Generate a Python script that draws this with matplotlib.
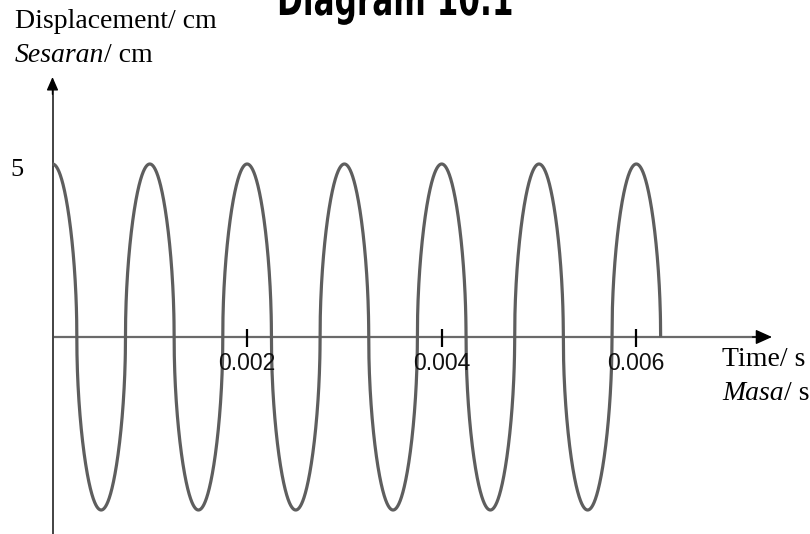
import numpy as np
import matplotlib.pyplot as plt
import matplotlib.patheffects as pe
from matplotlib.transforms import Affine2D

# wave parameters
AMPLITUDE = 5.0          # cm
PERIOD = 0.001           # s
T_END = 0.00625          # curve stops at this zero crossing
SHAPE = 0.5              # <1 gives the fat, steep-sided loops of the sketch
TICK_TIMES = [0.002, 0.004, 0.006]
TICK_LABELS = ['0.002', '0.004', '0.006']
Y_LABEL_VALUE = 5

SERIF = 'Liberation Serif'
SANS = 'Liberation Sans'


class Condense(pe.AbstractPathEffect):
    """Squeeze text horizontally about its anchor (no condensed font here)."""

    def __init__(self, sx):
        super().__init__()
        self.sx = sx

    def draw_path(self, renderer, gc, tpath, affine, rgbFace=None):
        renderer.draw_path(gc, tpath, Affine2D().scale(self.sx, 1) + affine,
                           rgbFace)


fig = plt.figure(figsize=(8.1, 5.34), dpi=100)
ax = fig.add_axes([0, 0, 1, 1])
ax.set_xlim(-52.5 / 97300, (810 - 52.5) / 97300)
ax.set_ylim(-(534 - 337) / 34.6, 337 / 34.6)
ax.axis('off')

# displacement curve
t = np.linspace(0, T_END, 4000)
c = np.cos(2 * np.pi * t / PERIOD)
y = AMPLITUDE * np.sign(c) * np.abs(c) ** SHAPE
ax.plot(t, y, color='#5e5e5e', lw=2.3, solid_capstyle='butt', zorder=3)

# axes with arrow heads
x_tip = (772 - 52.5) / 97300
ax.plot([0.00003, x_tip - 0.0001], [0, 0], color='#6a6a6a', lw=1.6, zorder=2)
ax.annotate('', xy=(x_tip, 0), xytext=(x_tip - 0.0002, 0),
            arrowprops=dict(arrowstyle='-|>,head_length=1.0,head_width=0.45',
                            color='black', lw=1.0, shrinkA=0, shrinkB=0))
y_tip = (337 - 77) / 34.6
ax.plot([0, 0], [-6, y_tip - 0.3], color='#222222', lw=1.2, zorder=2)
ax.annotate('', xy=(0, y_tip), xytext=(0, y_tip - 0.5),
            arrowprops=dict(arrowstyle='-|>,head_length=0.8,head_width=0.35',
                            color='black', lw=1.0, shrinkA=0, shrinkB=0))

# ticks and labels on time axis
ax.vlines(TICK_TIMES, -0.28, 0.22, color='black', lw=1.6, zorder=4)
for tt, lab in zip(TICK_TIMES, TICK_LABELS):
    ax.text(tt, -0.42, lab, ha='center', va='top', fontsize=16.5,
            family=SANS, color='#111111')

ax.text(-0.00037, (337 - 170) / 34.6, str(Y_LABEL_VALUE), ha='center',
        va='center', fontsize=19, family=SERIF)

# axis titles (English / Malay)
ax.text(-0.000385, 8.93, 'Displacement/ cm', ha='left', va='baseline',
        fontsize=20, family=SERIF)
s1 = ax.text(-0.000385, 7.95, 'Sesaran', ha='left', va='baseline',
             fontsize=20, family=SERIF, style='italic')
ax.annotate('/ cm', xy=(1, 0), xycoords=s1, ha='left', va='bottom',
            fontsize=20, family=SERIF)

tx = (722 - 52.5) / 97300
ax.text(tx, (337 - 366) / 34.6, 'Time/ s', ha='left', va='baseline',
        fontsize=20, family=SERIF)
m1 = ax.text(tx, (337 - 400) / 34.6, 'Masa', ha='left', va='baseline',
             fontsize=20, family=SERIF, style='italic')
ax.annotate('/ s', xy=(1, 0), xycoords=m1, ha='left', va='bottom',
            fontsize=20, family=SERIF)

fig.text(277 / 810, 1 - 15 / 534, 'Diagram 10.1', ha='left', va='baseline',
         fontsize=33, fontweight='bold', family='DejaVu Sans',
         path_effects=[Condense(0.68)])

fig.savefig('out.png', dpi=100)
